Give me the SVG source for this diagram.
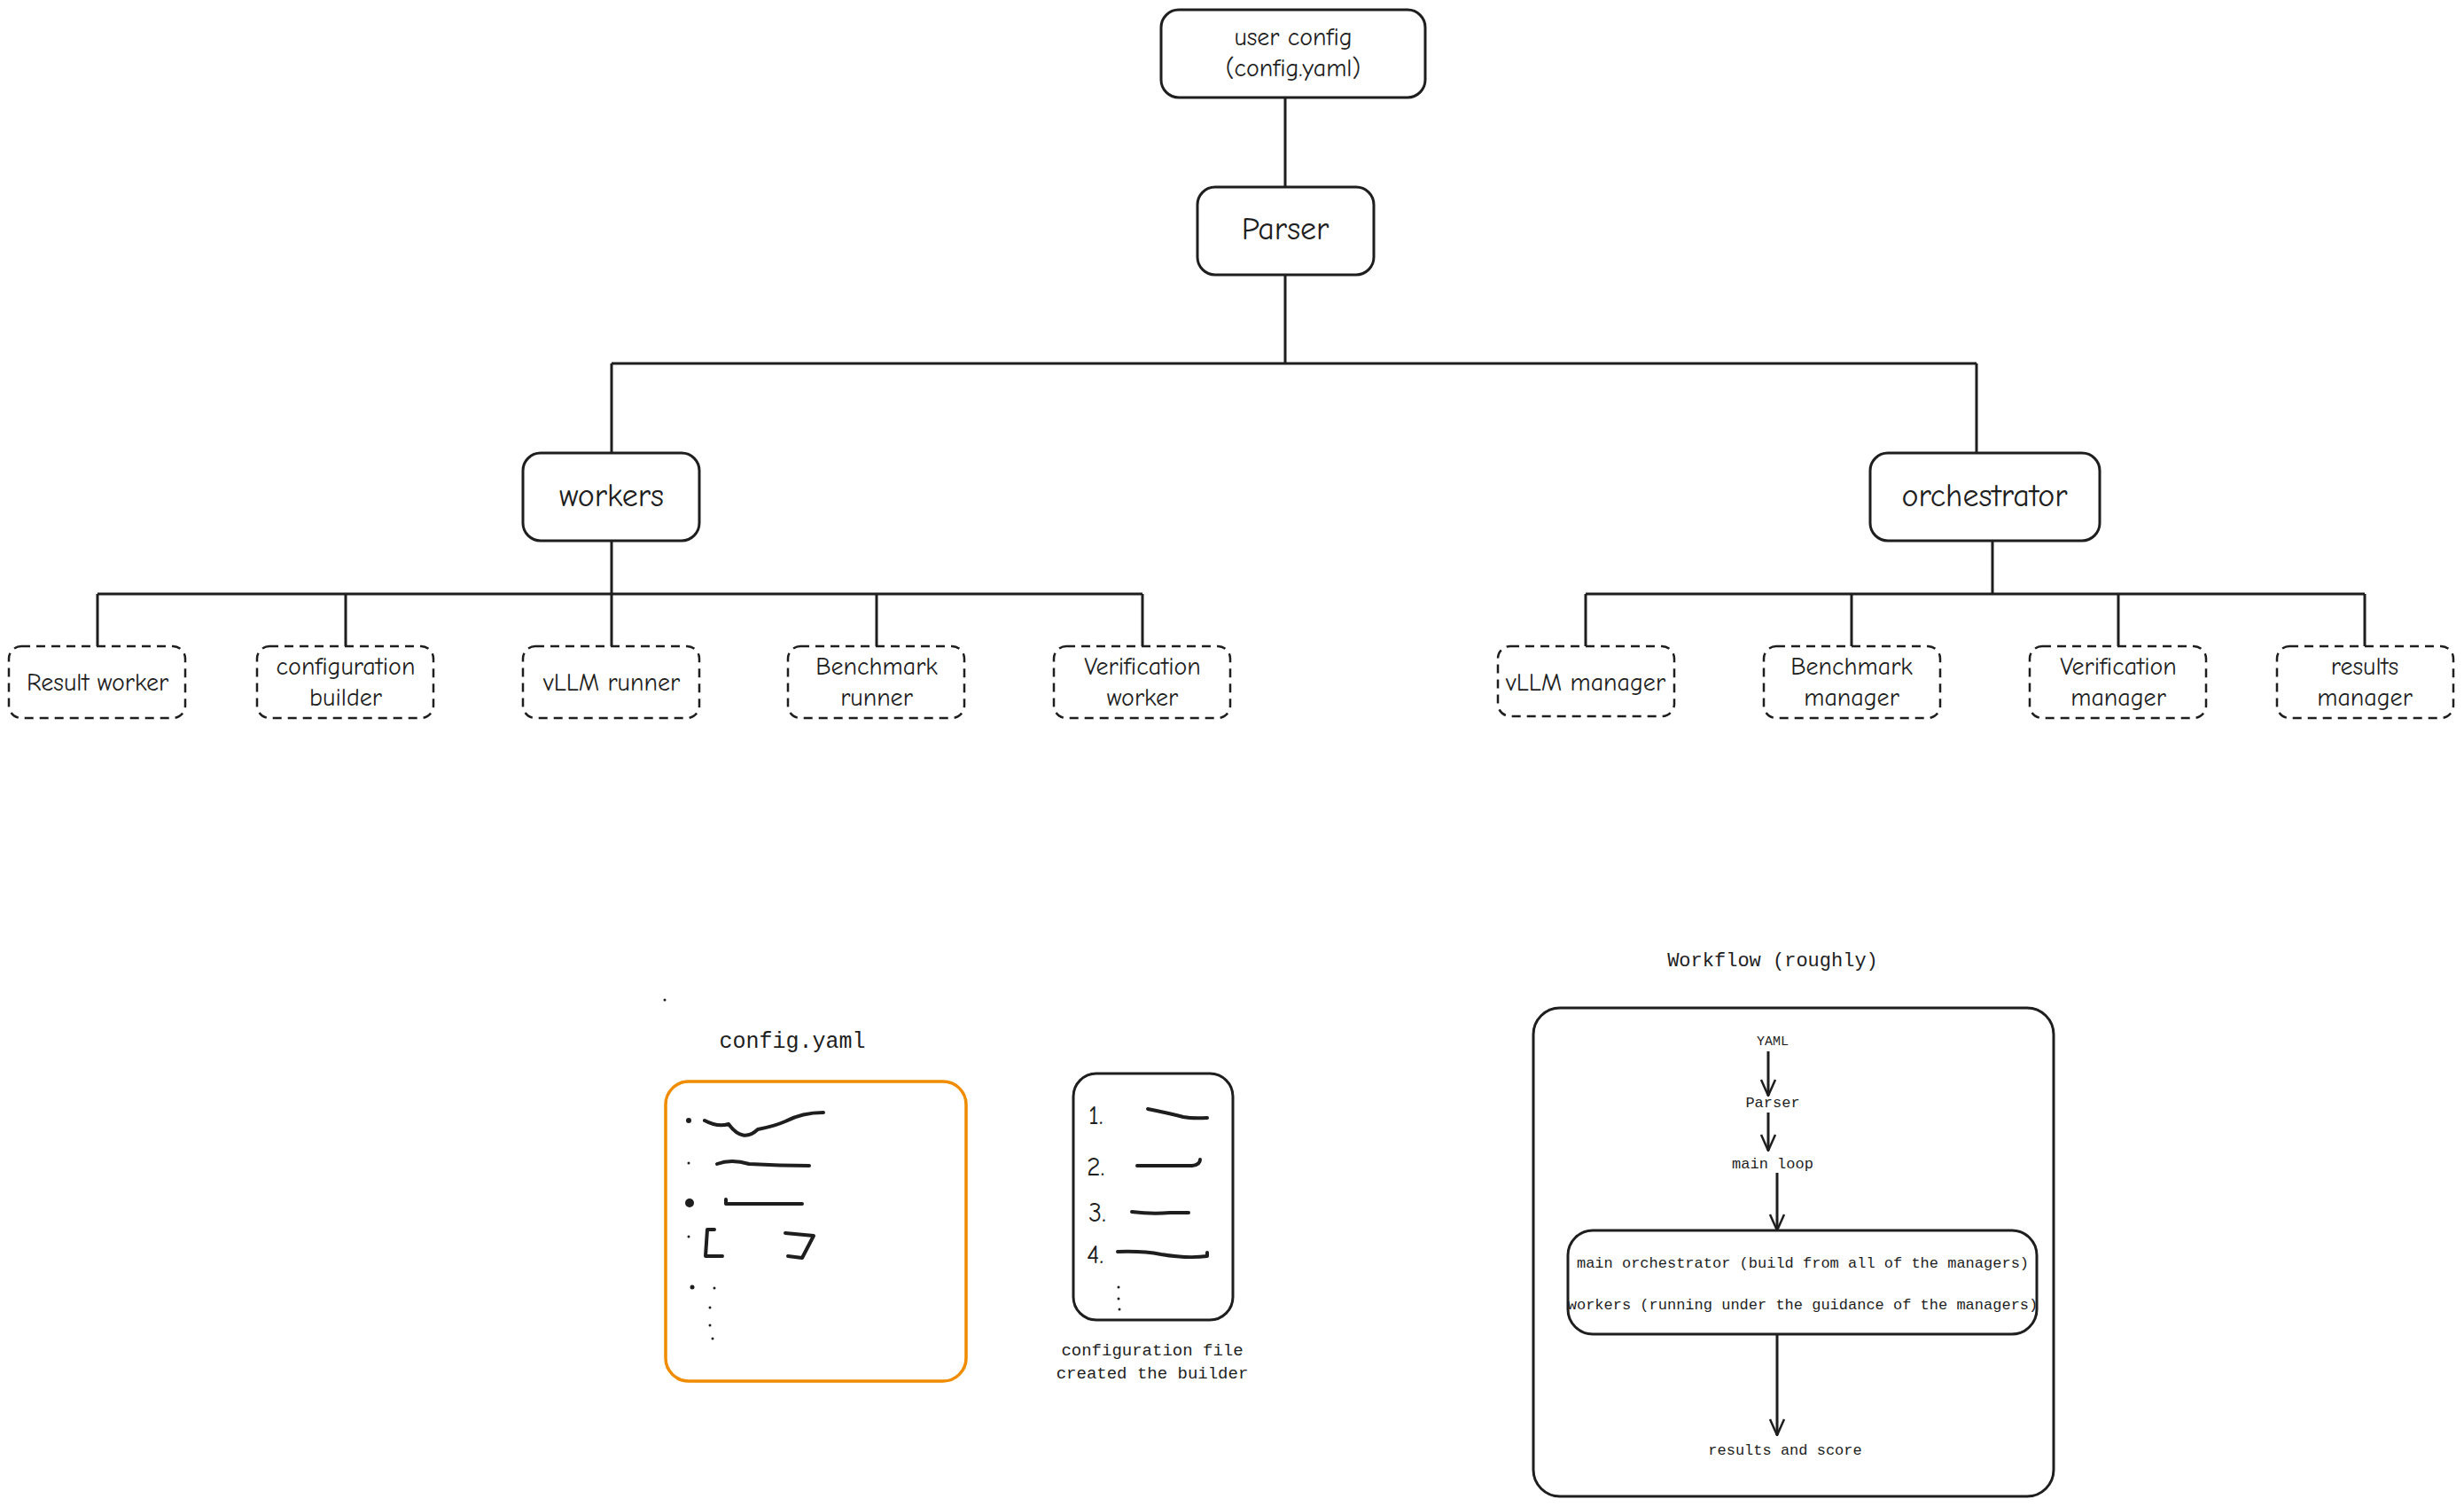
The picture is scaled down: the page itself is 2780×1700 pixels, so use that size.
<svg xmlns="http://www.w3.org/2000/svg" width="2780" height="1700" viewBox="0 0 2780 1700">
<defs>
<style>
.box{fill:none;stroke:#1e1e1e;stroke-width:3}
.dash{fill:none;stroke:#1e1e1e;stroke-width:2.5;stroke-dasharray:10 7}
.ln{fill:none;stroke:#1e1e1e;stroke-width:3}
.sc{fill:none;stroke:#1e1e1e;stroke-width:4;stroke-linecap:round;stroke-linejoin:round}
.t{font-family:"Comic Neue","Liberation Sans",sans-serif;fill:#1e1e1e;text-anchor:middle}
.m{font-family:"Liberation Mono",monospace;fill:#1e1e1e;text-anchor:middle}
</style>
<marker id="ar" viewBox="0 0 20 20" refX="19" refY="10" markerWidth="20" markerHeight="20" markerUnits="userSpaceOnUse" orient="auto">
<path d="M1 2 L19 10 L1 18" fill="none" stroke="#1e1e1e" stroke-width="2.5"/>
</marker>
</defs>
<rect width="2780" height="1700" fill="#fff"/>
<g id="connectors">
<path class="ln" d="M1450 110 V211 M1450 310 V410 M690 410 H2230 M690 410 V511 M2230 410 V511"/>
<path class="ln" d="M690 610 V729 M110 670 H1289 M110 670 V729 M390 670 V729 M989 670 V729 M1289 670 V729"/>
<path class="ln" d="M2248 610 V670 M1789 670 H2668 M1789 670 V729 M2089 670 V729 M2390 670 V729 M2668 670 V729"/>
<path class="ln" d="M1995 1186 V1236" marker-end="url(#ar)"/>
<path class="ln" d="M1995 1255 V1298" marker-end="url(#ar)"/>
<path class="ln" d="M2005 1323 V1388" marker-end="url(#ar)"/>
<path class="ln" d="M2005 1505 V1619" marker-end="url(#ar)"/>
</g>
<g id="user-config"><rect class="box" x="1310" y="11" width="298" height="99" rx="20"/>
<text class="t" x="1459" y="51" font-size="28">user config</text><text class="t" x="1459" y="86" font-size="28">(config.yaml)</text></g>
<g id="parser"><rect class="box" x="1351" y="211" width="199" height="99" rx="20"/><text class="t" x="1450" y="270" font-size="36">Parser</text></g>
<g id="workers"><rect class="box" x="590" y="511" width="199" height="99" rx="20"/><text class="t" x="690" y="571" font-size="36">workers</text></g>
<g id="orchestrator"><rect class="box" x="2110" y="511" width="259" height="99" rx="20"/><text class="t" x="2239" y="571" font-size="36">orchestrator</text></g>
<g id="result-worker"><rect class="dash" x="10" y="729" width="199" height="81" rx="14"/><text class="t" x="110" y="779" font-size="28">Result worker</text></g>
<g id="configuration-builder"><rect class="dash" x="290" y="729" width="199" height="81" rx="14"/><text class="t" x="390" y="761" font-size="28">configuration</text><text class="t" x="390" y="796" font-size="28">builder</text></g>
<g id="vllm-runner"><rect class="dash" x="590" y="729" width="199" height="81" rx="14"/><text class="t" x="690" y="779" font-size="28">vLLM runner</text></g>
<g id="benchmark-runner"><rect class="dash" x="889" y="729" width="199" height="81" rx="14"/><text class="t" x="989" y="761" font-size="28">Benchmark</text><text class="t" x="989" y="796" font-size="28">runner</text></g>
<g id="verification-worker"><rect class="dash" x="1189" y="729" width="199" height="81" rx="14"/><text class="t" x="1289" y="761" font-size="28">Verification</text><text class="t" x="1289" y="796" font-size="28">worker</text></g>
<g id="vllm-manager"><rect class="dash" x="1690" y="729" width="199" height="79" rx="14"/><text class="t" x="1789" y="779" font-size="28">vLLM manager</text></g>
<g id="benchmark-manager"><rect class="dash" x="1990" y="729" width="199" height="81" rx="14"/><text class="t" x="2089" y="761" font-size="28">Benchmark</text><text class="t" x="2089" y="796" font-size="28">manager</text></g>
<g id="verification-manager"><rect class="dash" x="2290" y="729" width="199" height="81" rx="14"/><text class="t" x="2390" y="761" font-size="28">Verification</text><text class="t" x="2390" y="796" font-size="28">manager</text></g>
<g id="results-manager"><rect class="dash" x="2569" y="729" width="199" height="81" rx="14"/><text class="t" x="2668" y="761" font-size="28">results</text><text class="t" x="2668" y="796" font-size="28">manager</text></g>
<g id="config-yaml">
<circle cx="750" cy="1128" r="1.5" fill="#1e1e1e"/>
<text class="m" x="894" y="1182" font-size="25">config.yaml</text>
<rect x="751" y="1220" width="339" height="338" rx="26" fill="none" stroke="#f08c00" stroke-width="3.5"/>
<circle cx="777" cy="1264" r="3" fill="#1e1e1e"/>
<path class="sc" d="M795 1264 Q810 1272 822 1268 Q838 1290 855 1274 Q875 1270 886 1265 Q905 1255 929 1255"/>
<circle cx="777" cy="1312" r="1.5" fill="#1e1e1e"/>
<path class="sc" d="M809 1313 Q825 1307 845 1313 Q880 1315 913 1315"/>
<circle cx="778" cy="1357" r="5" fill="#1e1e1e"/>
<path class="sc" d="M819 1353 V1358 H905"/>
<circle cx="777" cy="1395" r="1.5" fill="#1e1e1e"/>
<path class="sc" d="M806 1387 H798 L796 1417 H815"/>
<path class="sc" d="M886 1391 L918 1394 L905 1419 L889 1417"/>
<circle cx="781" cy="1452" r="2.5" fill="#1e1e1e"/><circle cx="806" cy="1453" r="1.5" fill="#1e1e1e"/><circle cx="801" cy="1475" r="1.5" fill="#1e1e1e"/><circle cx="801" cy="1495" r="1.5" fill="#1e1e1e"/><circle cx="804" cy="1510" r="1.5" fill="#1e1e1e"/>
</g>
<g id="configuration-file">
<rect class="box" x="1211" y="1211" width="180" height="278" rx="26"/>
<text class="t" x="1228" y="1268" font-size="30" style="text-anchor:start">1.</text>
<text class="t" x="1226" y="1326" font-size="30" style="text-anchor:start">2.</text>
<text class="t" x="1228" y="1378" font-size="30" style="text-anchor:start">3.</text>
<text class="t" x="1226" y="1425" font-size="30" style="text-anchor:start">4.</text>
<path class="sc" d="M1295 1251 Q1320 1256 1335 1260 Q1345 1262 1362 1261"/>
<path class="sc" d="M1283 1315 H1345 Q1354 1314 1354 1308"/>
<path class="sc" d="M1277 1367 Q1300 1370 1320 1368 H1341"/>
<path class="sc" d="M1261 1412 Q1290 1411 1310 1415 Q1340 1420 1362 1417 V1413"/>
<circle cx="1262" cy="1452" r="1.5" fill="#1e1e1e"/><circle cx="1262" cy="1465" r="1.5" fill="#1e1e1e"/><circle cx="1263" cy="1477" r="1.5" fill="#1e1e1e"/>
<text class="m" x="1300" y="1529" font-size="19">configuration file</text>
<text class="m" x="1300" y="1555" font-size="19">created the builder</text>
</g>
<g id="workflow">
<text class="m" x="2000" y="1090" font-size="22">Workflow (roughly)</text>
<rect class="box" x="1730" y="1137" width="587" height="551" rx="30"/>
<text class="m" x="2000" y="1179" font-size="15">YAML</text>
<text class="m" x="2000" y="1249" font-size="17">Parser</text>
<text class="m" x="2000" y="1318" font-size="17">main loop</text>
<rect class="box" x="1769" y="1388" width="529" height="117" rx="28"/>
<text class="m" x="2034" y="1430" font-size="17">main orchestrator (build from all of the managers)</text>
<text class="m" x="2034" y="1477" font-size="17">workers (running under the guidance of the managers)</text>
<text class="m" x="2014" y="1641" font-size="17">results and score</text>
</g>
</svg>
